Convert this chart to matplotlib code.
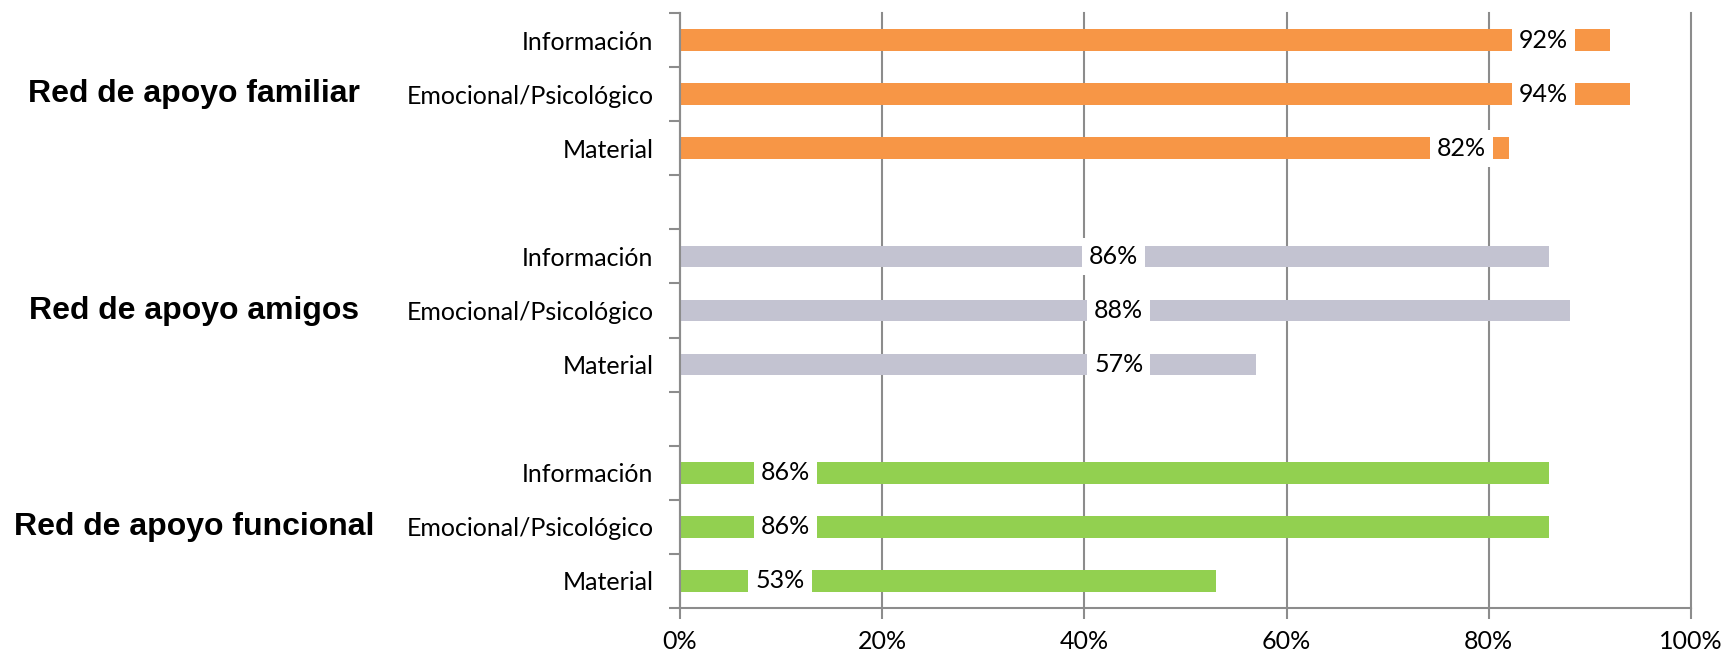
import matplotlib
matplotlib.use("Agg")
import matplotlib.pyplot as plt
import matplotlib.transforms as mtransforms
import numpy as np

# ---- data ----
groups = ["Red de apoyo familiar", "Red de apoyo amigos", "Red de apoyo funcional"]
subcats = ["Información", "Emocional/Psicológico", "Material"]
familiar = [92, 94, 82]
amigos = [86, 88, 57]
funcional = [86, 86, 53]
x_ticks = [0, 20, 40, 60, 80, 100]
x_ticklabels = ["0%", "20%", "40%", "60%", "80%", "100%"]

# ---- style ----
colors = ["#F79646", "#C3C3D1", "#92D050"]
label_x = [[85.4, 85.4, 77.3], [42.9, 43.4, 43.4], [10.4, 10.4, 9.9]]
grid_col = "#8C8C8C"
lab_font = "Lato"

W, H = 1725, 657
fig = plt.figure(figsize=(W / 100, H / 100), dpi=100)
ax = fig.add_axes([680 / W, 1 - 608 / H, (1691 - 680) / W, (608 - 13) / H])

series = [familiar, amigos, funcional]
n_slots = 11
ypos, ylabels = [], []
for gi, vals in enumerate(series):
    for si, v in enumerate(vals):
        y = gi * 4 + si
        ax.barh(y, v, height=0.4, color=colors[gi], zorder=2)
        ax.text(label_x[gi][si], y, f"{v}%", ha="center", va="center",
                fontsize=18, family=lab_font, color="black", zorder=4,
                bbox=dict(facecolor="white", edgecolor="none", pad=5))
        ypos.append(y)
        ylabels.append(subcats[si])

ax.set_ylim(n_slots - 0.5, -0.5)
ax.set_xlim(0, 100)

trans = mtransforms.blended_transform_factory(fig.transFigure, ax.transData)
for gi in range(3):
    fig.text(194 / W, gi * 4 + 1, groups[gi], ha="center", va="center",
             fontsize=23, fontweight="bold", family="Liberation Sans",
             transform=trans)

ax.set_yticks(ypos)
ax.set_yticklabels(ylabels, fontsize=18, family=lab_font)
ax.tick_params(axis="y", which="major", length=0, pad=19)
ax.set_yticks(np.arange(-0.5, n_slots, 1.0), minor=True)
ax.tick_params(axis="y", which="minor", length=8, width=1.5, color=grid_col, direction="out")

ax.set_xticks(x_ticks)
ax.set_xticklabels(x_ticklabels, fontsize=18, family=lab_font)
ax.tick_params(axis="x", length=8, width=1.5, color=grid_col, direction="out", pad=8)

ax.grid(axis="x", color=grid_col, linewidth=1.5, zorder=0)
for gl in ax.get_xgridlines():
    gl.set_clip_on(False)
ax.set_axisbelow(True)
for s in ["top", "right"]:
    ax.spines[s].set_visible(False)
for s in ["left", "bottom"]:
    ax.spines[s].set_color(grid_col)
    ax.spines[s].set_linewidth(1.5)

fig.savefig("out.png", dpi=100)
